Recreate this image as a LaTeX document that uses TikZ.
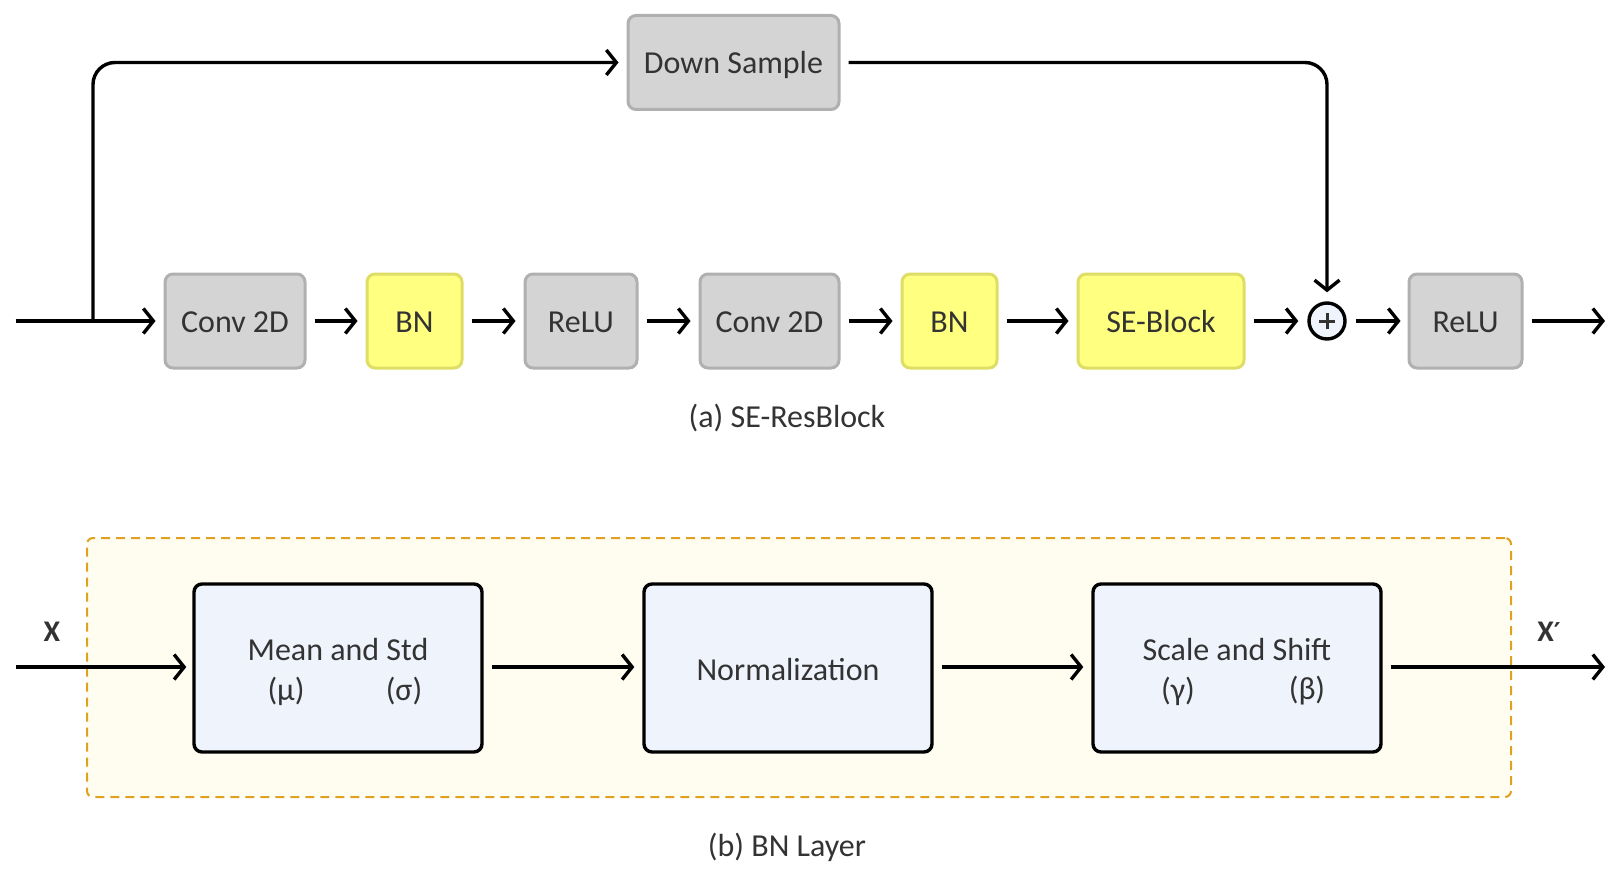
\documentclass[tikz,border=0pt]{standalone}
\usepackage{fontspec}
\setmainfont{Carlito}
\newfontfamily\primefont{DejaVu Sans}
\usetikzlibrary{arrows.meta}
\definecolor{txt}{HTML}{333333}
\definecolor{grayfill}{HTML}{D4D4D4}
\definecolor{grayline}{HTML}{B0B0B0}
\definecolor{yelfill}{HTML}{FFFF80}
\definecolor{yelline}{HTML}{DEDE66}
\definecolor{bluefill}{HTML}{EEF3FC}
\definecolor{dashor}{HTML}{E0A020}
\definecolor{panelfill}{HTML}{FFFDF0}
\tikzset{
  base/.style={inner sep=0pt, text=txt, font=\fontsize{32}{38}\selectfont},
  boxtext/.style={text height=24pt, text depth=1.6pt},
  graybox/.style={base, boxtext, rectangle, rounded corners=8pt, fill=grayfill, draw=grayline, line width=3pt, minimum height=94pt},
  yelbox/.style={base, boxtext, rectangle, rounded corners=8pt, fill=yelfill, draw=yelline, line width=3pt, minimum height=94pt},
  bluebox/.style={base, rectangle, rounded corners=8pt, fill=bluefill, draw=black, line width=3.4pt, minimum width=288pt, minimum height=168pt},
  lbl/.style={base},
  conn/.style={line width=3.4pt, -{Straight Barb[length=10pt,width=25pt]}, shorten <=8pt, shorten >=8pt},
}
\begin{document}
\begin{tikzpicture}[x=1pt,y=-1pt]
\useasboundingbox (0,0) rectangle (1620,880);
% ---------- (a) SE-ResBlock ----------
\node[graybox, minimum width=211pt] (down) at (733.5,62.5) {Down Sample};
\node[graybox, minimum width=140pt] (conv1) at (235,321) {Conv 2D};
\node[yelbox, minimum width=95pt] (bn1) at (414.5,321) {BN};
\node[graybox, minimum width=112pt] (relu1) at (581,321) {ReLU};
\node[graybox, minimum width=139pt] (conv2) at (769.5,321) {Conv 2D};
\node[yelbox, minimum width=95pt] (bn2) at (949.5,321) {BN};
\node[yelbox, minimum width=166pt] (se) at (1161,321) {SE-Block};
\node[circle, draw=black, fill=bluefill, line width=3.4pt, minimum size=36pt, inner sep=0pt] (plus) at (1327,321) {};
\draw[line width=3pt, txt] (plus.center) ++(-8,0) -- ++(16,0);
\draw[line width=3pt, txt] (plus.center) ++(0,-8) -- ++(0,16);
\node[graybox, minimum width=113pt] (relu2) at (1465.5,321) {ReLU};

\coordinate (in) at (15.5,321);
\coordinate (branch) at (93,321);
\coordinate (out) at (1605,321);

\draw[conn, shorten <=0pt] (in) -- (conv1);
\draw[conn, shorten <=0pt, rounded corners=22pt] (branch) |- (down);
\draw[conn] (conv1) -- (bn1);
\draw[conn] (bn1) -- (relu1);
\draw[conn] (relu1) -- (conv2);
\draw[conn] (conv2) -- (bn2);
\draw[conn] (bn2) -- (se);
\draw[conn, shorten >=9pt] (se) -- (plus);
\draw[conn, shorten <=9pt, shorten >=7pt] (plus) -- (relu2);
\draw[conn, shorten >=0pt] (relu2) -- (out);
\draw[conn, shorten >=9pt, rounded corners=22pt] (down) -| (plus);

\node[lbl] (capa) at (787,418) {(a) SE-ResBlock};

% ---------- (b) BN Layer ----------
\node[rectangle, draw=dashor, fill=panelfill, line width=2pt, dash pattern=on 9pt off 6pt, rounded corners=6pt, minimum width=1424pt, minimum height=259pt, inner sep=0pt] (panel) at (799,667.5) {};

\node[bluebox] (mean) at (338,668) {};
\node[bluebox] (norm) at (788,668) {};
\node[bluebox] (scale) at (1237,668) {};

\node[lbl] (meant) at (338,650) {Mean and Std};
\node[lbl] (mu) at (286,691) {(μ)};
\node[lbl] (sigma) at (404,691) {(σ)};
\node[lbl] (normt) at (788,670) {Normalization};
\node[lbl] (scalet) at (1237,650) {Scale and Shift};
\node[lbl] (gamma) at (1178,691) {(γ)};
\node[lbl] (beta) at (1307,691) {(β)};

\coordinate (inb) at (15.5,667);
\coordinate (outb) at (1605,667);
\draw[conn, shorten <=0pt, shorten >=6pt] (inb) -- (inb -| mean.west);
\draw[conn] (mean.east |- inb) -- (norm.west |- inb);
\draw[conn] (norm.east |- inb) -- (scale.west |- inb);
\draw[conn, shorten >=0pt] (scale.east |- inb) -- (outb);

\node[lbl, font=\fontsize{30}{36}\selectfont\bfseries] (xin) at (52,632) {X};
\node[lbl, font=\fontsize{30}{36}\selectfont\bfseries] (xout) at (1549,632) {X{\primefont\fontsize{26}{30}\selectfont\bfseries ′}};

\node[lbl] (capb) at (787,847) {(b) BN Layer};
\end{tikzpicture}
\end{document}
